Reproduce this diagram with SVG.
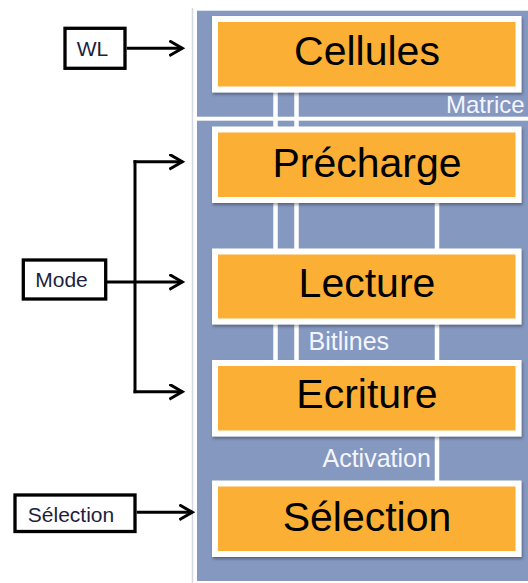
<svg xmlns="http://www.w3.org/2000/svg" width="528" height="583" viewBox="0 0 528 583">
  <style>
    .panel { fill: #8598C0; }
    .node { fill: #FBAF34; stroke: #FFFFFF; stroke-width: 6; }
    .nodetext { font-family: "Liberation Sans", Arial, sans-serif; font-size: 41px; fill: #000000; text-anchor: middle; }
    .label { font-family: "Liberation Sans", Arial, sans-serif; font-size: 25px; fill: #F4F5FF; }
    .wire { stroke: #FFFFFF; stroke-width: 4.5; fill: none; }
    .inbox { fill: #FFFFFF; stroke: #000000; stroke-width: 3.3; }
    .intext { font-family: "Liberation Sans", Arial, sans-serif; font-size: 21px; fill: #1E1E3C; text-anchor: middle; }
    .conn { stroke: #000000; stroke-width: 3; fill: none; marker-end: url(#arrow); }
  </style>
  <defs>
    <marker id="arrow" markerUnits="userSpaceOnUse" markerWidth="20" markerHeight="20" refX="13" refY="8" orient="auto">
      <path d="M0,0.5 L13,8 L0,15.5" fill="none" stroke="#000000" stroke-width="3"/>
    </marker>
    <filter id="shadow" x="-5%" y="-10%" width="115%" height="130%">
      <feDropShadow dx="1" dy="2" stdDeviation="1.5" flood-color="#000000" flood-opacity="0.35"/>
    </filter>
  </defs>

  <rect x="0" y="0" width="528" height="583" fill="#FFFFFF"/>

  <g id="background">
    <line x1="192.5" y1="8" x2="192.5" y2="583" stroke="#D6D8E2" stroke-width="1.5"/>
    <rect class="panel" x="197" y="10.7" width="331" height="106"/>
    <rect class="panel" x="197" y="120.7" width="331" height="460.3"/>
  </g>

  <g id="internal-lines">
    <line class="wire" x1="275.5" y1="90" x2="275.5" y2="364"/>
    <line class="wire" x1="296.5" y1="90" x2="296.5" y2="364"/>
    <line class="wire" x1="437" y1="200" x2="437" y2="486"/>
  </g>

  <g id="labels">
    <text class="label" x="446" y="113" style="font-size:24px">Matrice</text>
    <text class="label" x="308.5" y="350">Bitlines</text>
    <text class="label" x="322.5" y="466.5">Activation</text>
  </g>

  <g id="cellules">
    <rect class="node" x="215" y="19" width="303.5" height="70.5" filter="url(#shadow)"/>
    <text class="nodetext" x="367" y="65">Cellules</text>
  </g>
  <g id="precharge">
    <rect class="node" x="215" y="129.5" width="303.5" height="70.5" filter="url(#shadow)"/>
    <text class="nodetext" x="367" y="176.5">Précharge</text>
  </g>
  <g id="lecture">
    <rect class="node" x="215" y="251.5" width="303.5" height="70" filter="url(#shadow)"/>
    <text class="nodetext" x="367" y="296.5">Lecture</text>
  </g>
  <g id="ecriture">
    <rect class="node" x="215" y="363" width="303.5" height="70.5" filter="url(#shadow)"/>
    <text class="nodetext" x="367" y="408">Ecriture</text>
  </g>
  <g id="selection">
    <rect class="node" x="215" y="483.5" width="303.5" height="70.5" filter="url(#shadow)"/>
    <text class="nodetext" x="367" y="531">Sélection</text>
  </g>

  <g id="wl-input">
    <rect class="inbox" x="65" y="28.3" width="60" height="40"/>
    <text class="intext" x="92.5" y="56">WL</text>
  </g>
  <g id="mode-input">
    <rect class="inbox" x="23.3" y="260" width="82.4" height="39"/>
    <text class="intext" x="61.5" y="287.3">Mode</text>
  </g>
  <g id="selection-input">
    <rect class="inbox" x="15" y="495" width="120" height="36.5"/>
    <text class="intext" x="71" y="521.5">Sélection</text>
  </g>

  <g id="connectors">
    <line class="conn" x1="126.7" y1="48.3" x2="182.3" y2="48.3"/>
    <line x1="107" y1="282" x2="135" y2="282" stroke="#000000" stroke-width="3"/>
    <line x1="135" y1="160.2" x2="135" y2="393.2" stroke="#000000" stroke-width="3"/>
    <line class="conn" x1="133.5" y1="161.7" x2="182.3" y2="161.7"/>
    <line class="conn" x1="135" y1="282" x2="182.3" y2="282"/>
    <line class="conn" x1="133.5" y1="391.7" x2="182.3" y2="391.7"/>
    <line class="conn" x1="136.7" y1="512.3" x2="192.3" y2="512.3"/>
  </g>
</svg>
